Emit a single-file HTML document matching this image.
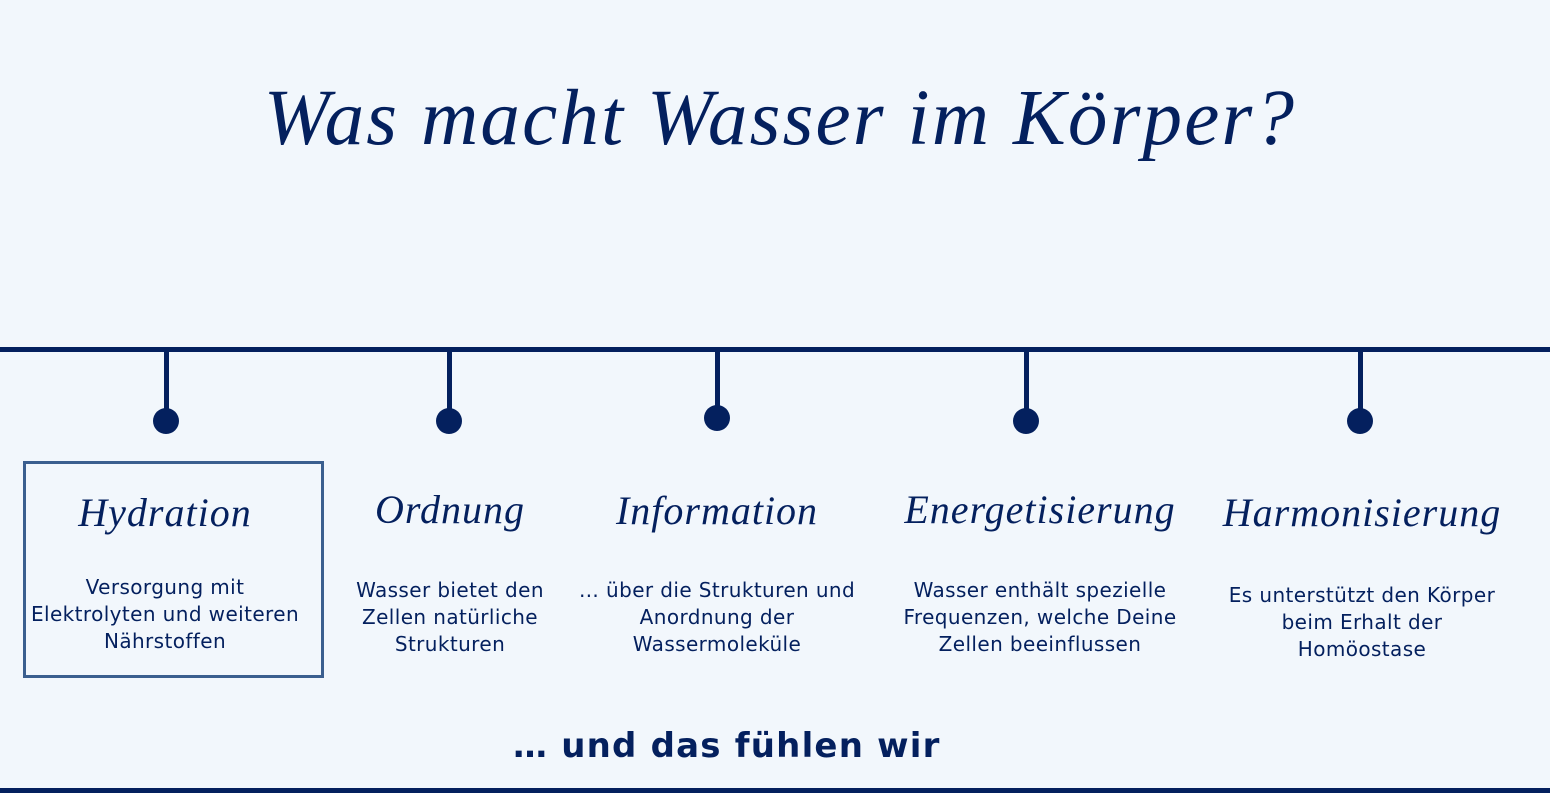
<!DOCTYPE html>
<html><head><meta charset="utf-8"><style>
body{margin:0;width:1550px;height:793px;background:#f2f7fc;position:relative;overflow:hidden;color:#04205e}
.t{position:absolute;left:5px;width:1550px;top:74px;text-align:center;font:italic 79px "Liberation Serif",serif;letter-spacing:2.2px;white-space:nowrap}
.line{position:absolute;left:0;width:1550px;height:5px;background:#04205e}
.stem{position:absolute;top:350px;width:5px;height:66px;background:#04205e}
.dot{position:absolute;width:26px;height:26px;border-radius:50%;background:#04205e}
.col{position:absolute;width:320px;text-align:center}
.h{font:italic 40px "Liberation Serif",serif;letter-spacing:1px;white-space:nowrap}
.p{font:20px/27px "DejaVu Sans",sans-serif;letter-spacing:0.4px;white-space:nowrap}
.box{position:absolute;left:23px;top:461px;width:295px;height:211px;border:3px solid #3b5f8f}
.b{position:absolute;left:513px;top:726px;font:bold 34px "DejaVu Sans",sans-serif;letter-spacing:1.2px;white-space:nowrap}
</style></head><body>
<div class="t">Was macht Wasser im Körper?</div>
<div class="line" style="top:347px"></div>
<div class="line" style="top:788px"></div>
<div class="box"></div>

<div class="stem" style="left:164px"></div><div class="dot" style="left:153px;top:408px"></div>
<div class="stem" style="left:447px"></div><div class="dot" style="left:436px;top:408px"></div>
<div class="stem" style="left:715px"></div><div class="dot" style="left:704px;top:405px"></div>
<div class="stem" style="left:1024px"></div><div class="dot" style="left:1013px;top:408px"></div>
<div class="stem" style="left:1358px"></div><div class="dot" style="left:1347px;top:408px"></div>

<div class="col" style="left:5px;top:489px"><div class="h">Hydration</div><div class="p" style="margin-top:38px">Versorgung mit<br>Elektrolyten und weiteren<br>Nährstoffen</div></div>
<div class="col" style="left:290px;top:486px"><div class="h">Ordnung</div><div class="p" style="margin-top:44px">Wasser bietet den<br>Zellen natürliche<br>Strukturen</div></div>
<div class="col" style="left:557px;top:487px"><div class="h">Information</div><div class="p" style="margin-top:43px">… über die Strukturen und<br>Anordnung der<br>Wassermoleküle</div></div>
<div class="col" style="left:880px;top:486px"><div class="h">Energetisierung</div><div class="p" style="margin-top:44px">Wasser enthält spezielle<br>Frequenzen, welche Deine<br>Zellen beeinflussen</div></div>
<div class="col" style="left:1202px;top:489px"><div class="h">Harmonisierung</div><div class="p" style="margin-top:46px">Es unterstützt den Körper<br>beim Erhalt der<br>Homöostase</div></div>

<div class="b">… und das fühlen wir</div>
</body></html>
